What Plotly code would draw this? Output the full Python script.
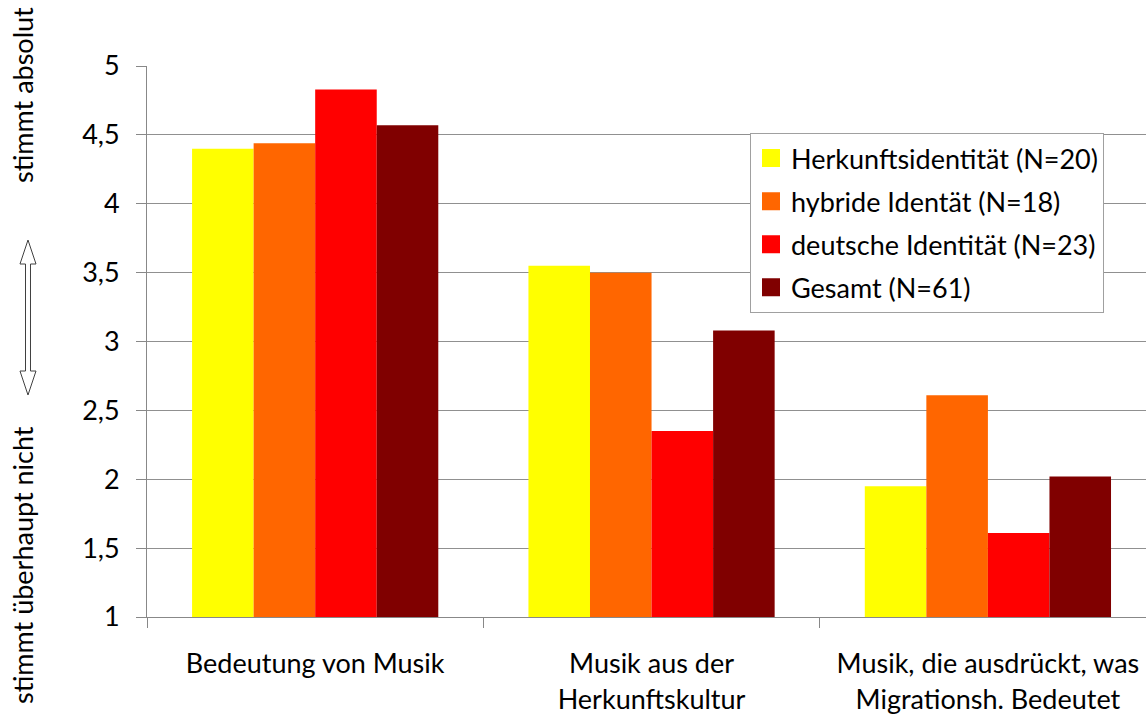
import plotly.graph_objects as go

categories = ["Bedeutung von Musik",
              "Musik aus der<br>Herkunftskultur",
              "Musik, die ausdrückt, was<br>Migrationsh. Bedeutet"]
series_names = ["Herkunftsidentität (N=20)", "hybride Identät (N=18)",
                "deutsche Identität (N=23)", "Gesamt (N=61)"]
herkunft = [4.40, 3.55, 1.95]
hybrid = [4.44, 3.50, 2.61]
deutsch = [4.83, 2.35, 1.61]
gesamt = [4.57, 3.08, 2.02]
values = [herkunft, hybrid, deutsch, gesamt]
colors = ["#FFFF00", "#FF6600", "#FF0000", "#800000"]

W, H = 1146, 724
L, R, T, B = 147, 0, 66, 107
PW, PH = W - L - R, H - T - B

def px_x(x):
    return (x - L) / PW

def px_y(y):
    return (H - B - y) / PH

FONT = "Lato"
FS = 27

fig = go.Figure()
for name, vals, col in zip(series_names, values, colors):
    fig.add_trace(go.Bar(x=categories, y=vals, name=name, marker_color=col,
                         marker_line_width=0, showlegend=False))
# legend entries with larger square swatches
for i, (name, col) in enumerate(zip(series_names, colors)):
    fig.add_trace(go.Scatter(x=[None], y=[None], mode="markers", name=name,
                             legendgroup=str(i),
                             marker=dict(symbol="square", size=20, color=col,
                                         line=dict(color=col, width=2))))

# outline double arrow between the y-axis captions
cx = 28
pts = [(cx, 240), (cx - 8, 264), (cx - 2.5, 264), (cx - 2.5, 371), (cx - 8, 371),
       (cx, 395), (cx + 8, 371), (cx + 2.5, 371), (cx + 2.5, 264), (cx + 8, 264)]
path = "M " + " L ".join(f"{px_x(x):.5f},{px_y(y):.5f}" for x, y in pts) + " Z"

fig.update_layout(
    width=W, height=H,
    margin=dict(l=L, r=R, t=T, b=B),
    paper_bgcolor="white", plot_bgcolor="white",
    separators=",.",
    font=dict(family=FONT, size=FS, color="#000000"),
    barmode="group", bargap=0.268, bargroupgap=0,
    showlegend=True,
    legend=dict(x=px_x(750), y=px_y(133), xanchor="left", yanchor="top",
                bgcolor="white", bordercolor="#A0A0A0", borderwidth=1,
                font=dict(family=FONT, size=FS, color="#000000"),
                traceorder="grouped", itemsizing="trace", tracegroupgap=5),
    xaxis=dict(range=[-0.5, 2.47], showgrid=False, showline=True,
               linecolor="#888888", linewidth=1, ticks="outside",
               tickson="boundaries", ticklen=10, tickcolor="#888888",
               ticklabelstandoff=23,
               tickfont=dict(family=FONT, size=FS, color="#000000"),
               fixedrange=True),
    yaxis=dict(range=[1, 5], dtick=0.5, tick0=1, showgrid=True,
               gridcolor="#909090", gridwidth=1, showline=True,
               linecolor="#888888", linewidth=1, ticks="outside",
               ticklen=10, tickcolor="#888888", zeroline=False,
               ticklabelstandoff=11,
               tickfont=dict(family=FONT, size=FS, color="#000000")),
    shapes=[dict(type="path", path=path, xref="paper", yref="paper",
                 line=dict(color="#404040", width=1), fillcolor="white")],
    annotations=[
        dict(text="stimmt absolut", x=px_x(22), y=px_y(95), xref="paper",
             yref="paper", textangle=-90, showarrow=False,
             xanchor="center", yanchor="middle",
             font=dict(family=FONT, size=FS, color="#000000")),
        dict(text="stimmt überhaupt nicht", x=px_x(22), y=px_y(565),
             xref="paper", yref="paper", textangle=-90, showarrow=False,
             xanchor="center", yanchor="middle",
             font=dict(family=FONT, size=FS, color="#000000")),
    ],
)

fig.write_html("out.html", config={"displayModeBar": False},
               post_script="document.body.style.margin='0';")
